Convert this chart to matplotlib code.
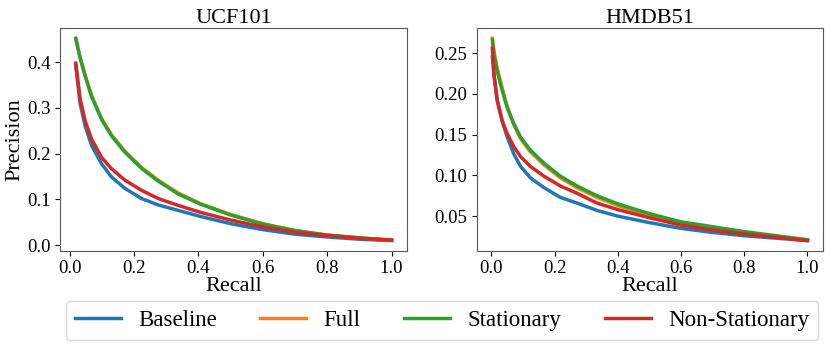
import matplotlib
matplotlib.use('Agg')
import matplotlib.pyplot as plt

plt.rcParams['font.family'] = ['Liberation Serif', 'DejaVu Serif']

labels = ['Baseline', 'Full', 'Stationary', 'Non-Stationary']
colors = ['#1f77b4', '#ff7f0e', '#2ca02c', '#d62728']

# UCF101 precision-recall curves
ucf_recall = [0.019, 0.032, 0.048, 0.068, 0.099, 0.130, 0.172, 0.223, 0.275,
              0.337, 0.405, 0.5, 0.6, 0.7, 0.8, 0.9, 1.0]
ucf_baseline = [0.392, 0.311, 0.261, 0.218, 0.178, 0.149, 0.124, 0.102, 0.088,
                0.076, 0.063, 0.047, 0.034, 0.024, 0.018, 0.013, 0.010]
ucf_full = [0.452, 0.412, 0.372, 0.327, 0.277, 0.241, 0.205, 0.170, 0.142,
            0.114, 0.091, 0.067, 0.047, 0.032, 0.022, 0.016, 0.011]
ucf_stationary = [0.452, 0.410, 0.370, 0.325, 0.275, 0.239, 0.203, 0.168, 0.140,
                  0.112, 0.090, 0.066, 0.046, 0.032, 0.022, 0.016, 0.011]
ucf_nonstat = [0.398, 0.322, 0.272, 0.232, 0.192, 0.167, 0.142, 0.120, 0.102,
               0.087, 0.072, 0.055, 0.040, 0.028, 0.021, 0.015, 0.011]

# HMDB51 precision-recall curves
hmdb_recall = [0.003, 0.008, 0.018, 0.034, 0.05, 0.071, 0.092, 0.123, 0.166,
               0.218, 0.271, 0.334, 0.4, 0.5, 0.6, 0.7, 0.8, 0.9, 1.0]
hmdb_baseline = [0.245, 0.222, 0.193, 0.166, 0.147, 0.126, 0.111, 0.097, 0.085,
                 0.073, 0.066, 0.057, 0.050, 0.042, 0.035, 0.030, 0.026, 0.023, 0.020]
hmdb_full = [0.268, 0.252, 0.232, 0.207, 0.184, 0.162, 0.145, 0.129, 0.113,
             0.097, 0.085, 0.073, 0.063, 0.051, 0.042, 0.036, 0.030, 0.025, 0.021]
hmdb_stationary = [0.266, 0.248, 0.228, 0.204, 0.183, 0.163, 0.147, 0.131, 0.115,
                   0.099, 0.087, 0.075, 0.065, 0.053, 0.043, 0.037, 0.031, 0.026, 0.021]
hmdb_nonstat = [0.256, 0.224, 0.192, 0.167, 0.151, 0.135, 0.123, 0.111, 0.099,
                0.087, 0.078, 0.066, 0.058, 0.048, 0.039, 0.033, 0.028, 0.024, 0.020]

fig = plt.figure(figsize=(8.31, 3.47), dpi=100)
ax1 = fig.add_axes([0.0722, 0.2775, 0.418, 0.641])
ax2 = fig.add_axes([0.5736, 0.2775, 0.417, 0.641])

ucf_series = [ucf_baseline, ucf_full, ucf_stationary, ucf_nonstat]
hmdb_series = [hmdb_baseline, hmdb_full, hmdb_stationary, hmdb_nonstat]

for ax, recall, series, title in [(ax1, ucf_recall, ucf_series, 'UCF101'),
                                  (ax2, hmdb_recall, hmdb_series, 'HMDB51')]:
    for vals, c, lab in zip(series, colors, labels):
        ax.plot(recall, vals, color=c, lw=2.5, label=lab)
    ax.set_title(title, fontsize=16, pad=4)
    ax.set_xlabel('Recall', fontsize=16, labelpad=0)
    ax.tick_params(labelsize=13.5)
    ax.set_xticks([0.0, 0.2, 0.4, 0.6, 0.8, 1.0])
    for s in ax.spines.values():
        s.set_color('0.35')

ax1.set_ylabel('Precision', fontsize=16, labelpad=2)
ax1.set_yticks([0.0, 0.1, 0.2, 0.3, 0.4])
ax2.set_yticks([0.05, 0.10, 0.15, 0.20, 0.25])

handles, labs = ax1.get_legend_handles_labels()
fig.legend(handles, labs, loc='upper center', bbox_to_anchor=(0.532, 0.133),
           ncol=4, fontsize=16.5, frameon=True, columnspacing=1.9,
           handletextpad=0.76, borderaxespad=0, borderpad=0.4)

fig.savefig('out.png', dpi=100)
